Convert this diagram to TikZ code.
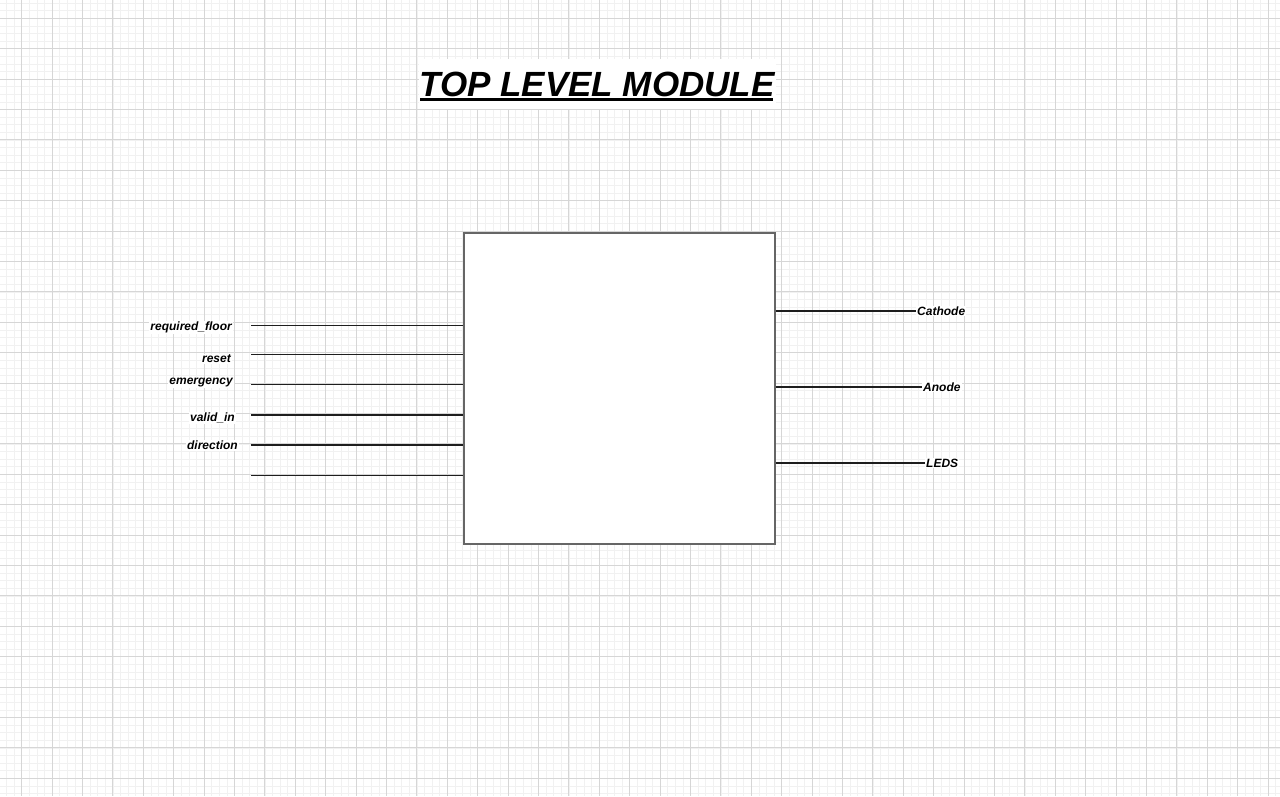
\documentclass[tikz,border=0pt]{standalone}
\usepackage{fontspec}
\setmainfont{Liberation Sans}
\usepackage{xcolor}
\usetikzlibrary{positioning}
\definecolor{gridmajor}{HTML}{D6D6D6}
\definecolor{gridminor}{HTML}{F1F1F1}
\definecolor{boxedge}{HTML}{666666}
\definecolor{wirecol}{HTML}{1E1E1E}

\begin{document}
\begin{tikzpicture}[x=1pt,y=-1pt,
    every node/.style={font=\fontsize{12}{14}\selectfont\bfseries\itshape},
    minorln/.style={gridminor,line width=0.8pt},
    majorln/.style={gridmajor,line width=1pt},
    blk/.style={draw=boxedge,fill=white,line width=1.8pt,minimum width=311pt,minimum height=311pt,inner sep=0pt},
    sig/.style={fill=white,inner sep=1pt},
    wire/.style={wirecol,line width=1.2pt}]
    \useasboundingbox (0,0) rectangle (1280,796);
    \fill[white] (0,0) rectangle (1280,796);
    % grid
    \foreach \i in {0,...,167} \draw[minorln] (6.5+7.6*\i,0) -- (6.5+7.6*\i,796);
    \foreach \i in {0,...,104} \draw[minorln] (0,3.1+7.6*\i) -- (1280,3.1+7.6*\i);
    \foreach \i in {0,...,41} \draw[majorln] (21.7+30.4*\i,0) -- (21.7+30.4*\i,796);
    \foreach \i in {0,...,25} \draw[majorln] (0,18.3+30.4*\i) -- (1280,18.3+30.4*\i);
    % title
    \node[fill=white,minimum width=357pt,minimum height=50pt,inner sep=0pt,
      font=\fontsize{35}{40}\selectfont\bfseries\itshape] (title) at (597,84) {TOP LEVEL MODULE};
    \draw[black,line width=2.5pt] (420,99.5) -- (773,99.5);
    % module
    \node[blk] (top) at (619.25,388.25) {};
    % inputs
    \coordinate (in1) at (251,325.5);
    \coordinate (in2) at (251,354.5);
    \coordinate (in3) at (251,384.5);
    \coordinate (in4) at (251,415);
    \coordinate (in5) at (251,445);
    \coordinate (in6) at (251,475.5);
    \node[sig,anchor=east] (reqfloor) at (233,327.5) {required\_floor};
    \node[sig,anchor=east] (reset) at (232,359) {reset};
    \node[sig,anchor=east] (emerg) at (234,383) {emergency};
    \node[sig,anchor=east] (validin) at (236,418) {valid\_in};
    \node[sig,anchor=east] (dir) at (239,445.5) {direction};
    \foreach \p in {in1,in2,in3,in4,in5,in6}
      \draw[wire] (\p) -- (\p -| top.west);
    % outputs
    \node[sig,anchor=west] (cathode) at (916,311) {Cathode};
    \node[sig,anchor=west] (anode) at (922,387) {Anode};
    \node[sig,anchor=west] (leds) at (925,463) {LEDS};
    \foreach \q in {cathode,anode,leds}
      \draw[wire] (\q.west -| top.east) -- (\q.west);
  \end{tikzpicture}
\end{document}
